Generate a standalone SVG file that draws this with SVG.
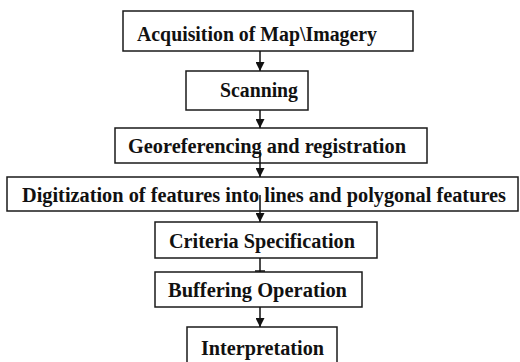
<svg xmlns="http://www.w3.org/2000/svg" width="520" height="362" viewBox="0 0 520 362">
<defs>
<style>
.box{fill:#fff;stroke:#1a1a1a;stroke-width:1.5}
.t{font-family:"Liberation Serif","Times New Roman","DejaVu Serif",serif;font-weight:bold;font-size:20px;fill:#111}
.c{stroke:#111;stroke-width:1.5;fill:none}
</style>
<marker id="ah" viewBox="0 0 10 10" refX="10" refY="5" markerWidth="9" markerHeight="9" markerUnits="userSpaceOnUse" orient="auto">
<path d="M0,0 L10,5 L0,10 z" fill="#111"/>
</marker>
</defs>
<rect width="520" height="362" fill="#fff"/>
<g id="n1"><rect class="box" x="123" y="11" width="290" height="40"/><text class="t" x="137" y="41" textLength="240" lengthAdjust="spacingAndGlyphs">Acquisition of Map\Imagery</text></g>
<g id="n2"><rect class="box" x="186" y="71" width="122" height="39"/><text class="t" x="220" y="97" textLength="78" lengthAdjust="spacingAndGlyphs">Scanning</text></g>
<g id="n3"><rect class="box" x="115" y="128" width="312" height="35"/><text class="t" x="128" y="153" textLength="278" lengthAdjust="spacingAndGlyphs">Georeferencing and registration</text></g>
<g id="n4"><rect class="box" x="7" y="177" width="511" height="34"/><text class="t" x="22" y="202" textLength="484" lengthAdjust="spacingAndGlyphs">Digitization of features into lines and polygonal features</text></g>
<g id="n5"><rect class="box" x="155" y="222" width="222" height="36"/><text class="t" x="169" y="248" textLength="186" lengthAdjust="spacingAndGlyphs">Criteria Specification</text></g>
<g id="n6"><rect class="box" x="155" y="272" width="207" height="35"/><text class="t" x="168" y="297" textLength="179" lengthAdjust="spacingAndGlyphs">Buffering Operation</text></g>
<g id="n7"><rect class="box" x="187" y="327" width="150" height="40"/><text class="t" x="201" y="355" textLength="123" lengthAdjust="spacingAndGlyphs">Interpretation</text></g>
<g id="connectors">
<line class="c" x1="260" y1="51" x2="260" y2="71" marker-end="url(#ah)"/>
<line class="c" x1="260" y1="110" x2="260" y2="128" marker-end="url(#ah)"/>
<line class="c" x1="260" y1="150" x2="260" y2="177" marker-end="url(#ah)"/>
<line class="c" x1="260" y1="195" x2="260" y2="222" marker-end="url(#ah)"/>
<line class="c" x1="260" y1="258" x2="260" y2="272"/>
<line class="c" x1="255" y1="271" x2="265" y2="271"/>
<line class="c" x1="260" y1="307" x2="260" y2="327" marker-end="url(#ah)"/>
</g>
</svg>
